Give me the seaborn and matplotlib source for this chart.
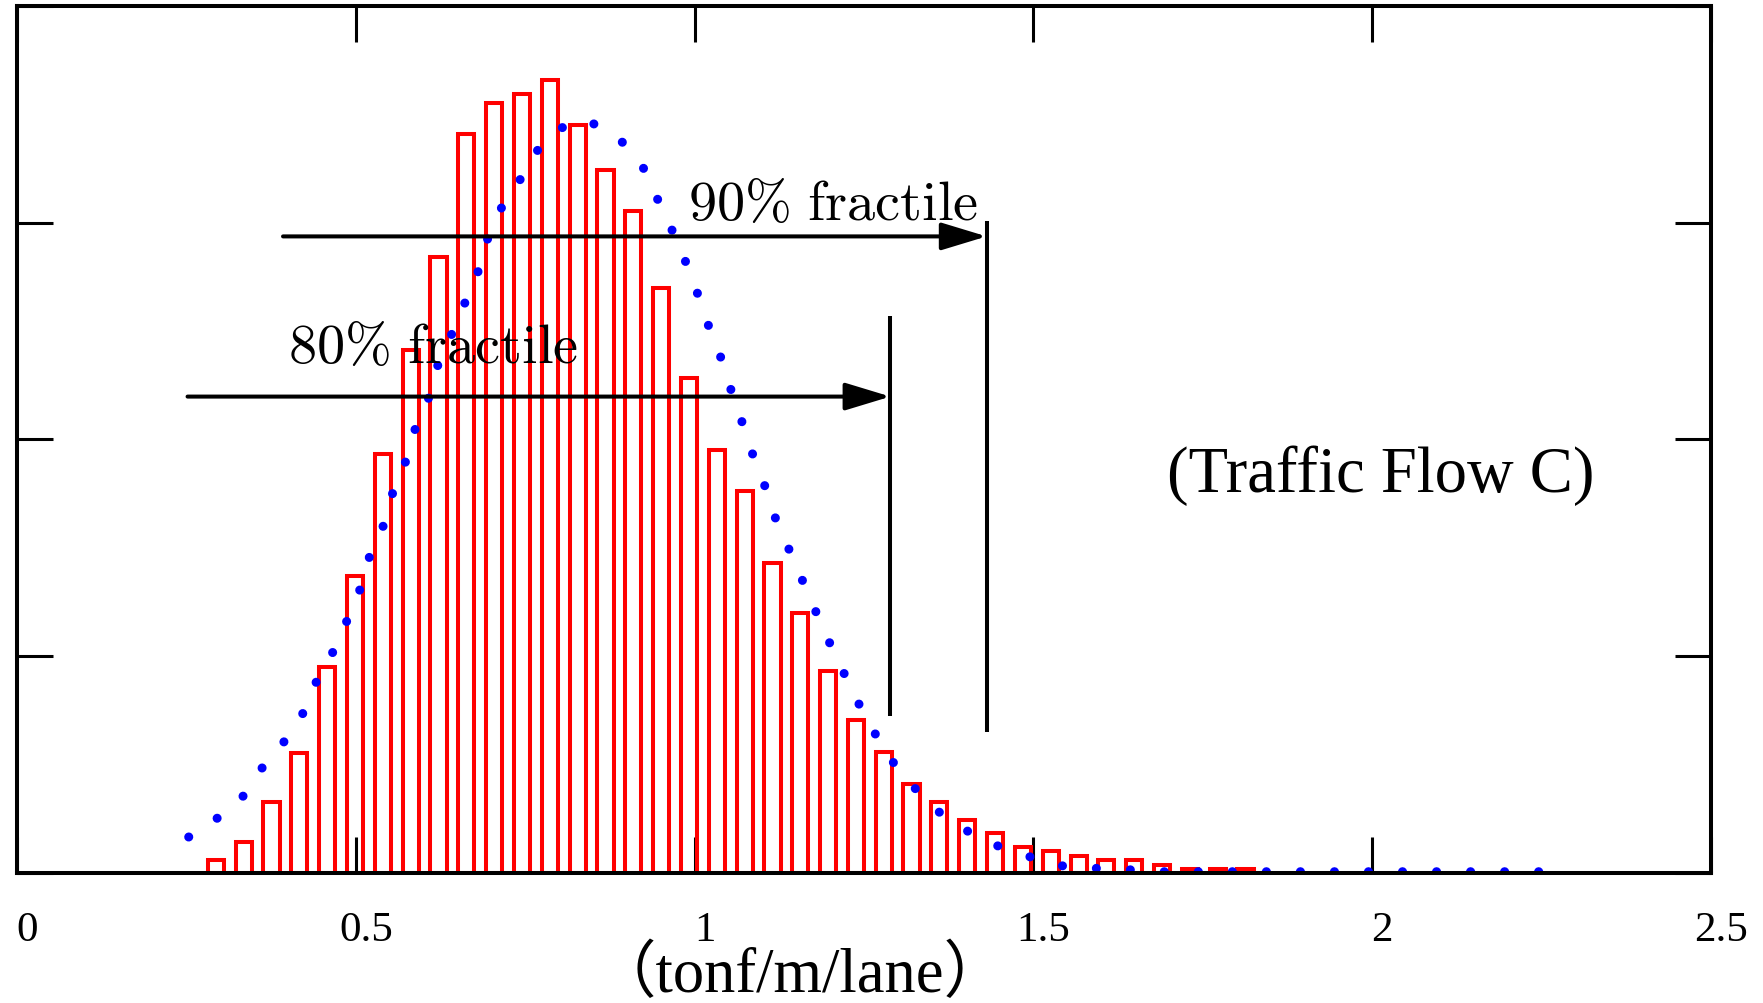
import numpy as np
import pandas as pd
import matplotlib
matplotlib.use("Agg")
import matplotlib.pyplot as plt
import matplotlib.transforms as mtransforms
import seaborn as sns

# Histogram of the distributed lane load: bin centres (tonf/m/lane) and frequency (%)
bin_centers = [0.2935, 0.3346, 0.3756, 0.4167, 0.4578, 0.4989, 0.5399, 0.5810,
               0.6221, 0.6631, 0.7042, 0.7453, 0.7863, 0.8274, 0.8685, 0.9096,
               0.9506, 0.9917, 1.0328, 1.0738, 1.1149, 1.1560, 1.1970, 1.2381,
               1.2792, 1.3202, 1.3613, 1.4024, 1.4435, 1.4845, 1.5256, 1.5667,
               1.6077, 1.6488, 1.6899, 1.7309, 1.7720, 1.8131]
frequency = [0.117, 0.283, 0.652, 1.110, 1.900, 2.740, 3.862, 4.822,
             5.685, 6.815, 7.106, 7.189, 7.313, 6.898, 6.483, 6.107,
             5.400, 4.569, 3.899, 3.524, 2.860, 2.401, 1.863, 1.409,
             1.116, 0.821, 0.652, 0.489, 0.366, 0.240, 0.203, 0.157,
             0.120, 0.120, 0.074, 0.037, 0.037, 0.037]
bin_width = 0.04107

# Fitted distribution curve (dotted)
curve_x = [0.2534, 0.2940, 0.3335, 0.3601, 0.3935, 0.4206, 0.4402, 0.4664,
           0.4870, 0.5066, 0.5199, 0.5406, 0.5539, 0.5731, 0.5863, 0.6066,
           0.6195, 0.6402, 0.6600, 0.6798, 0.6927, 0.7131, 0.7397, 0.7667,
           0.8002, 0.8397, 0.8865, 0.9194, 0.9401, 0.9597, 0.9799, 0.9995,
           1.0128, 1.0335, 1.0468, 1.0660, 1.0798, 1.0995, 1.1127, 1.1330,
           1.1530, 1.1733, 1.1929, 1.2128, 1.2333, 1.2596, 1.2794, 1.3130,
           1.3467, 1.3862, 1.4256, 1.4724, 1.5212, 1.5726, 1.6194, 1.6734,
           2.2723]
curve_y = [0.332, 0.498, 0.708, 0.957, 1.206, 1.455, 1.746, 2.041,
           2.329, 2.623, 2.912, 3.204, 3.496, 3.789, 4.077, 4.366,
           4.662, 4.952, 5.246, 5.535, 5.824, 6.119, 6.368, 6.658,
           6.868, 6.953, 6.787, 6.575, 6.285, 6.033, 5.741, 5.452,
           5.160, 4.868, 4.578, 4.246, 3.951, 3.662, 3.370, 3.078,
           2.789, 2.495, 2.205, 1.953, 1.661, 1.372, 1.123, 0.874,
           0.621, 0.458, 0.289, 0.206, 0.083, 0.043, 0.043, 0.012,
           0.012]

# Fractile markers
fractile_labels = ["80\\%", "90\\%"]
fractile_values = [1.289, 1.431]
arrow_start = [0.2517, 0.3926]
arrow_level = [4.396, 5.874]
marker_bottom = [1.451, 1.304]
marker_top = [5.135, 6.018]
label_pos = [(0.3996, 4.711), (0.990, 6.033)]

x_ticks = [0, 0.5, 1, 1.5, 2, 2.5]
x_tick_labels = ["0", "0.5", "1", "1.5", "2", "2.5"]
y_ticks = [0, 2, 4, 6, 8]

sns.set_style("ticks")
plt.rcParams["font.family"] = ["Liberation Serif", "Noto Sans CJK JP"]
plt.rcParams["mathtext.fontset"] = "cm"
for key in ["text.color", "axes.labelcolor", "xtick.color", "ytick.color",
            "axes.edgecolor"]:
    plt.rcParams[key] = "black"

fig = plt.figure(figsize=(17.63, 10.04), dpi=100)
ax = fig.add_axes([0.00964, 0.12948, 0.96086, 0.86355])

hist_df = pd.DataFrame({"load": bin_centers, "freq": frequency})
edges = list(np.append(np.array(bin_centers) - bin_width / 2,
                       bin_centers[-1] + bin_width / 2))
sns.histplot(data=hist_df, x="load", weights="freq", bins=edges, shrink=0.58,
             fill=False, color="#ff0000", linewidth=2.9, element="bars",
             stat="count", ax=ax, zorder=1)

curve_df = pd.DataFrame({"load": curve_x, "density": curve_y})
sns.lineplot(data=curve_df, x="load", y="density", sort=False, estimator=None,
             ax=ax, color="#0000ff", linewidth=6.5,
             linestyle=(0, (0.01, 3.76)), dash_capstyle="round", zorder=2)

for lab, val, x0, yl, yb, yt, (tx, ty) in zip(fractile_labels, fractile_values,
                                            arrow_start, arrow_level,
                                            marker_bottom, marker_top, label_pos):
    ax.plot([val, val], [yb, yt], color="black", linewidth=2.9,
            solid_capstyle="butt", zorder=3)
    ax.annotate("", xy=(val, yl), xytext=(x0, yl),
                arrowprops=dict(arrowstyle="-|>,head_length=2.8,head_width=0.85",
                                color="black", linewidth=2.9, mutation_scale=10,
                                shrinkA=0, shrinkB=0),
                zorder=3)
    ax.text(tx, ty, r"$\mathrm{" + lab + r"\ fractile}$", fontsize=40.5,
            color="black", ha="left", va="baseline", zorder=4)

ax.text(1.6967, 3.527, "(Traffic Flow C)", fontsize=46.5, color="black",
        ha="left", va="baseline")
ax.text(1.1556, -1.085, "（tonf/m/lane）", fontsize=45, color="black",
        ha="center", va="baseline", clip_on=False)

ax.set_xlim(0, 2.5)
ax.set_ylim(0, 8)
ax.set_xlabel("")
ax.set_ylabel("")
ax.set_xticks(x_ticks)
ax.set_xticklabels(x_tick_labels)
ax.set_yticks(y_ticks)
ax.tick_params(axis="both", direction="in", length=26, width=2.2,
               top=True, right=True, color="black", labelcolor="black")
ax.tick_params(axis="x", labelsize=31, pad=27)
ax.tick_params(axis="y", labelleft=False)
for s in ax.spines.values():
    s.set_linewidth(2.9)
    s.set_color("black")
    s.set_zorder(5)

shift = mtransforms.ScaledTranslation(0.10, 0, fig.dpi_scale_trans)
for lab in ax.get_xticklabels():
    lab.set_transform(lab.get_transform() + shift)

fig.savefig("out.png", dpi=100, facecolor="white")
